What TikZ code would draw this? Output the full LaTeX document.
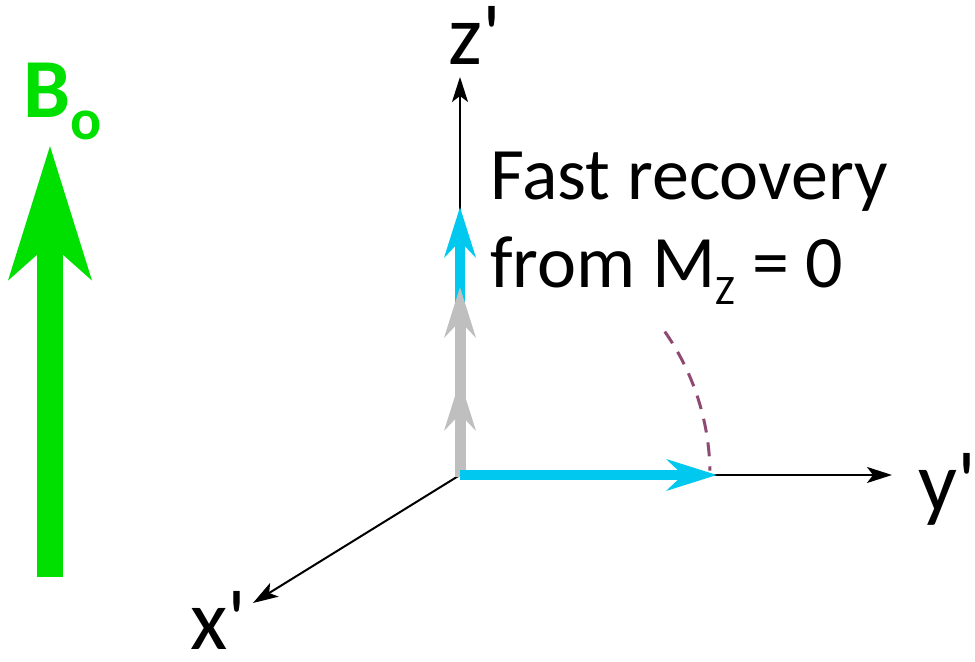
\documentclass[tikz,border=0pt]{standalone}
\usepackage{fontspec}
\setmainfont{Carlito}
\usetikzlibrary{arrows.meta,positioning,calc}
\definecolor{fieldGreen}{HTML}{00E000}
\definecolor{magCyan}{HTML}{00C8EE}
\definecolor{recoverGray}{HTML}{BFBFBF}
\definecolor{arcPlum}{HTML}{8E4A72}
\tikzset{
  axis/.style={-{Stealth[length=12.5pt, width=8pt, inset=3pt]}, line width=1pt, black},
  axislabel/.style={inner sep=0pt, anchor=base west, font=\fontsize{43}{50}\selectfont},
  fieldarrow/.style={-{Stealth[length=66pt, width=40pt, inset=17pt]}, line width=13pt, fieldGreen},
  magvec/.style={-{Stealth[length=25pt, width=15.5pt, inset=8pt]}, line width=5pt, magCyan},
  grayvec/.style={magvec, recoverGray, line width=5.5pt},
  recoverarc/.style={dash pattern=on 7pt off 5pt, line width=1.5pt, arcPlum},
  note/.style={inner sep=0pt, anchor=base west, align=left, font=\fontsize{37}{44}\selectfont}
}
\begin{document}
\begin{tikzpicture}[x=0.5pt, y=0.5pt]
  \useasboundingbox (0,0) rectangle (975,662);
  \coordinate (o) at (460,187);
  \coordinate (xend) at (253,59);
  \coordinate (yend) at (892,187);
  \coordinate (zend) at (460,585);
  % static field
  \coordinate (b0) at (50,85);
  \coordinate (b1) at (50,517);
  \draw[fieldarrow] (b0) -- (b1);
  \node[font=\bfseries\fontsize{42}{50}\selectfont, text=fieldGreen, inner sep=0pt, anchor=base west] (blabel) at (23,544) {B\raisebox{-11pt}{\fontsize{29}{34}\selectfont o}};
  % rotating frame
  \draw[axis] (o) -- (zend);
  \draw[axis] (o) -- (yend);
  \draw[axis] (o) -- (xend);
  \node[axislabel] (zlab) at (448,597) {z\textquotesingle};
  \node[axislabel] (ylab) at (918,150) {y\textquotesingle};
  \node[axislabel, text depth=0pt] (xlab) at (190,12) {x\textquotesingle};
  % magnetization
  \coordinate (mzbase) at (460,350);
  \coordinate (mztip) at (460,455);
  \coordinate (mxytip) at (717,187);
  \coordinate (g1) at (460,282);
  \coordinate (g2) at (460,375);
  \draw[magvec] (mzbase) -- (mztip);
  \draw[grayvec] ([yshift=-1pt]o) -- (g2);
  \draw[grayvec] ([yshift=-1pt]o) -- (g1);
  \draw[magvec] (o) -- (mxytip);
  \draw[recoverarc] (o) ++(35:250) arc[start angle=35, end angle=1, radius=250];
  \node[note] (recov) at (490,374) {Fast recovery\\from M\raisebox{-8.5pt}{\fontsize{21}{24}\selectfont Z} = 0};
\end{tikzpicture}
\end{document}
